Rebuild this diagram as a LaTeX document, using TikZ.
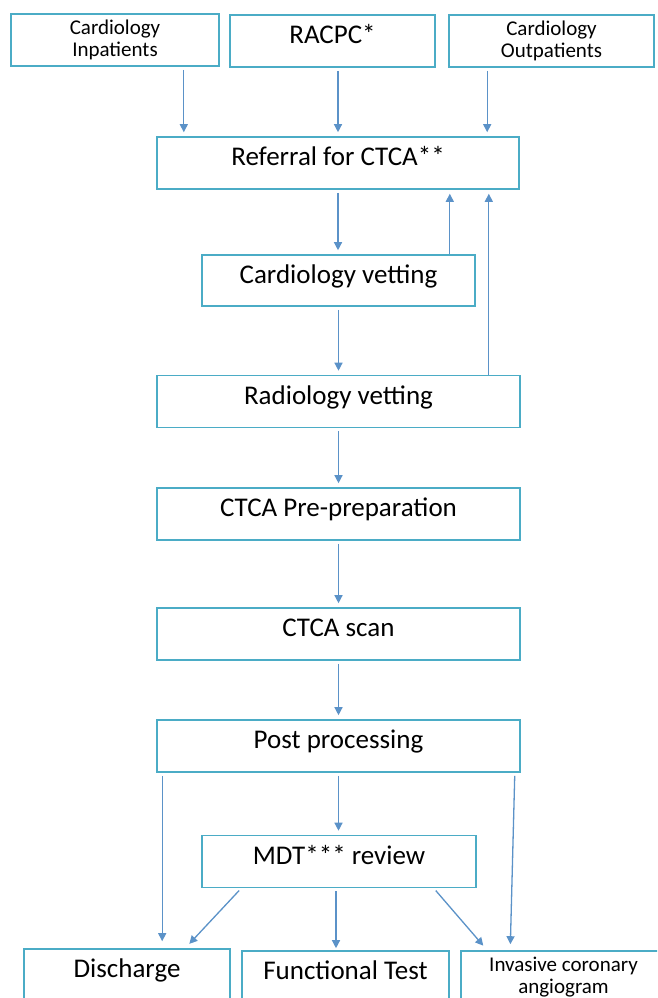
\documentclass[tikz,border=0pt]{standalone}
\usepackage{fontspec}
\setmainfont{Carlito}
\usetikzlibrary{arrows.meta}

\begin{document}
\begin{tikzpicture}[x=1pt,y=-1pt,
  box/.style={draw=boxline,line width=1.6pt,inner sep=0pt,minimum height=52pt,text height=18pt,text depth=13pt,font=\fontsize{27}{31}\selectfont},
  smallbox/.style={draw=boxline,line width=1.6pt,inner sep=0pt,minimum height=52pt,align=center,font=\fontsize{21}{21.5}\selectfont},
  arr/.style={draw=arrowline,line width=1.3pt,-{Triangle[length=8pt,width=8pt]},shorten <=3pt,shorten >=4pt}]
% Define colours
\definecolor{boxline}{RGB}{75,172,198}
\definecolor{arrowline}{RGB}{91,146,200}

% Page frame
\clip (0,0) rectangle (657,998);
\fill[white] (0,0) rectangle (657,998);

% Sources of referral
\node[smallbox,minimum width=208pt] (inpat) at (115,40) {Cardiology\\Inpatients};
\node[box,minimum width=205pt] (racpc) at (332.5,41) {RACPC*};
\node[smallbox,minimum width=205pt] (outpat) at (551.5,41) {Cardiology\\Outpatients};

% Main pathway
\node[box,minimum width=362pt] (referral) at (338,163) {Referral for CTCA**};
\node[box,minimum width=273pt,minimum height=51pt] (cardvet) at (338.5,280.5) {Cardiology vetting};
\node[box,minimum width=363pt] (radvet) at (338.5,401.5) {Radiology vetting};
\node[box,minimum width=363pt] (prep) at (338.5,514) {CTCA Pre-preparation};
\node[box,minimum width=363pt] (scan) at (338.5,634) {CTCA scan};
\node[box,minimum width=363pt] (post) at (338.5,746) {Post processing};
\node[box,minimum width=274pt] (mdt) at (339,861.5) {MDT*** review};

% Outcomes
\node[box,minimum width=206pt] (discharge) at (127,975) {Discharge};
\node[box,minimum width=207pt] (functest) at (345.5,977) {Functional Test};
\node[smallbox,minimum width=205pt] (ica) at (563.5,977) {Invasive coronary\\angiogram};

% Arrows into referral
\draw[arr] ([xshift=-36pt]inpat.south east) -- ([xshift=-36pt]inpat.south east |- referral.north);
\draw[arr] (racpc.south -| referral.north) -- (referral.north);
\draw[arr] ([xshift=39pt]outpat.south west) -- ([xshift=39pt]outpat.south west |- referral.north);

% Vetting loop
\draw[arr] (referral.south) -- (referral.south |- cardvet.north);
\draw[arr,shorten <=0pt] ([xshift=-26pt]cardvet.north east) -- ([xshift=-26pt]cardvet.north east |- referral.south);
\draw[arr,shorten <=0pt] ([xshift=-32pt]radvet.north east) -- ([xshift=-32pt]radvet.north east |- referral.south);

% Down the pathway
\draw[arr] (cardvet.south) -- (cardvet.south |- radvet.north);
\draw[arr] (radvet.south) -- (radvet.south |- prep.north);
\draw[arr] (prep.south) -- (prep.south |- scan.north);
\draw[arr] (scan.south) -- (scan.south |- post.north);
\draw[arr] (post.south) -- (post.south |- mdt.north);

% Outcomes
\draw[arr,shorten >=7pt] ([xshift=6pt]post.south west) -- ([xshift=6pt]post.south west |- discharge.north);
\draw[arr,shorten >=6pt] ([xshift=-6pt]post.south east) -- ([xshift=50pt]ica.north west);
\draw[arr,shorten >=6pt] ([xshift=40pt]mdt.south west) -- ([xshift=162pt]discharge.north west);
\draw[arr,shorten >=2pt] ([xshift=-3pt]mdt.south) -- ([xshift=-3pt]mdt.south |- functest.north);
\draw[arr,shorten >=6pt] ([xshift=-43pt]mdt.south east) -- ([xshift=27pt]ica.north west);
\end{tikzpicture}
\end{document}
